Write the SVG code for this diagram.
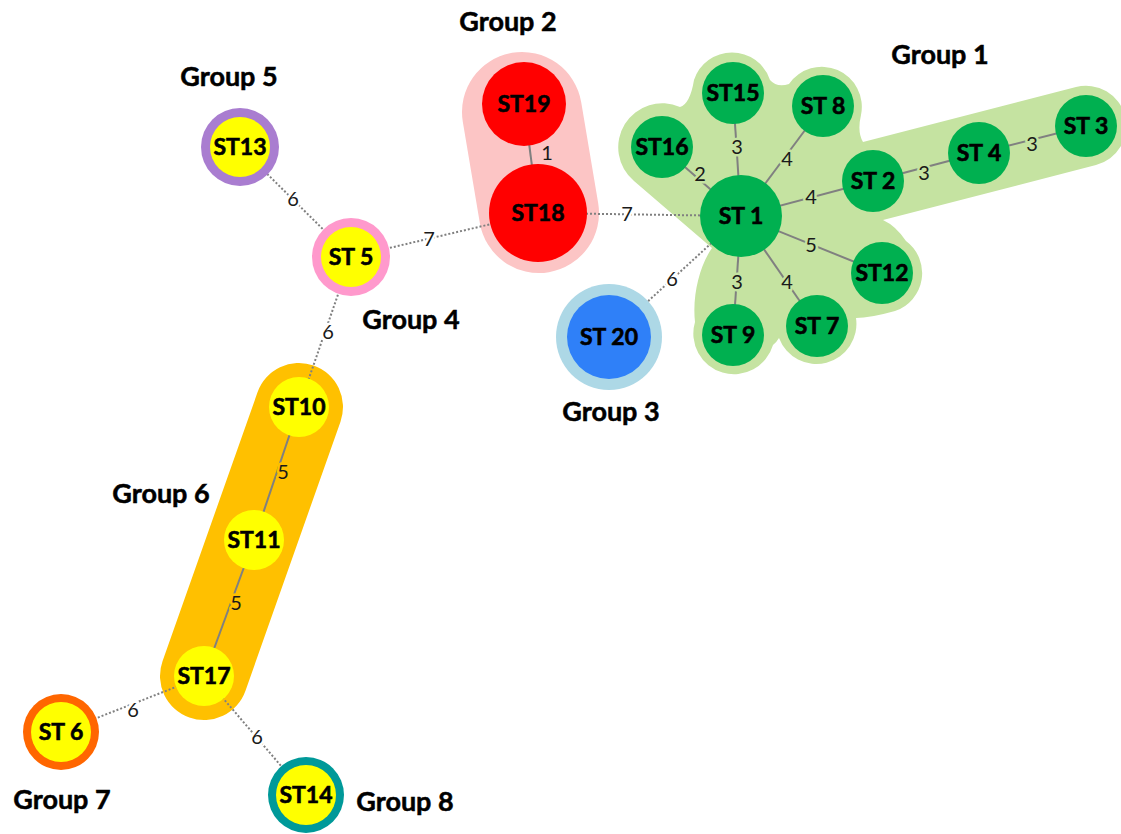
<svg xmlns="http://www.w3.org/2000/svg" width="1121" height="834" viewBox="0 0 1121 834">
<style>
.glabel{font-family:Lato,"Open Sans","Liberation Sans",sans-serif;font-weight:bold;font-size:27px;fill:#000;stroke:#000;stroke-width:0.5px;text-anchor:middle}
.nlabel{font-family:Lato,"Open Sans","Liberation Sans",sans-serif;font-weight:bold;font-size:23px;fill:#000;stroke:#000;stroke-width:0.6px;text-anchor:middle}
.elabel{font-family:Lato,"Open Sans","Liberation Sans",sans-serif;font-size:20px;fill:#1a1a1a;text-anchor:middle;paint-order:stroke;stroke-width:5px;stroke-linejoin:round}
.solid{stroke:#808080;stroke-width:2;fill:none}
.dotted{stroke:#808080;stroke-width:2;stroke-dasharray:2 2;fill:none}
.g1{fill:#00b050}
.yel{fill:#ffff00}
</style>
<g id="hulls">
  <path id="hull1" fill="#c5e3a1" d="M 680,107 Q 690,104 694,80 A 40 40 0 0 1 770,80 Q 777,88 789,84 A 40 40 0 0 1 861,115 Q 857,132 863,142 L 1076,87 A 40 40 0 0 1 1096,165 L 883,220 Q 896,226 906,241 A 40 40 0 0 1 895,311 Q 870,318 856,318 A 40 40 0 0 1 779,338 Q 776,343 773,345 A 40 40 0 1 1 695,322 C 692,295 700,265 712,248 L 634,181 A 44 44 0 0 1 680,107 Z"/>
  <line id="hull2" x1="522" y1="112" x2="539" y2="213" stroke="#fcc5c5" stroke-width="120" stroke-linecap="round"/>
  <line id="hull6" x1="299" y1="407" x2="204" y2="676" stroke="#ffc000" stroke-width="88" stroke-linecap="round"/>
</g>
<g id="connectors">
  <line class="solid" x1="741" y1="216" x2="733" y2="93"/>
  <line class="solid" x1="741" y1="216" x2="823" y2="106"/>
  <line class="solid" x1="741" y1="216" x2="662" y2="147"/>
  <line class="solid" x1="741" y1="216" x2="873" y2="181"/>
  <line class="solid" x1="873" y1="181" x2="979" y2="153"/>
  <line class="solid" x1="979" y1="153" x2="1086" y2="126"/>
  <line class="solid" x1="741" y1="216" x2="882" y2="273"/>
  <line class="solid" x1="741" y1="216" x2="817" y2="326"/>
  <line class="solid" x1="741" y1="216" x2="733" y2="335"/>
  <line class="solid" x1="524" y1="104" x2="538" y2="213"/>
  <line class="solid" x1="299" y1="407" x2="254" y2="540"/>
  <line class="solid" x1="254" y1="540" x2="204" y2="676"/>
  <line class="dotted" x1="538" y1="213" x2="741" y2="216"/>
  <line class="dotted" x1="741" y1="216" x2="609" y2="337"/>
  <line class="dotted" x1="351" y1="257" x2="538" y2="213"/>
  <line class="dotted" x1="351" y1="257" x2="240" y2="147"/>
  <line class="dotted" x1="351" y1="257" x2="299" y2="407"/>
  <line class="dotted" x1="204" y1="676" x2="61" y2="732"/>
  <line class="dotted" x1="204" y1="676" x2="306" y2="795"/>
  <g id="edge-labels">
    <text class="elabel" x="737" y="154" stroke="#c5e3a1">3</text>
    <text class="elabel" x="787" y="166" stroke="#c5e3a1">4</text>
    <text class="elabel" x="700" y="181" stroke="#c5e3a1">2</text>
    <text class="elabel" x="811" y="204" stroke="#c5e3a1">4</text>
    <text class="elabel" x="924" y="180" stroke="#c5e3a1">3</text>
    <text class="elabel" x="1032" y="151" stroke="#c5e3a1">3</text>
    <text class="elabel" x="811" y="252" stroke="#c5e3a1">5</text>
    <text class="elabel" x="737" y="289" stroke="#c5e3a1">3</text>
    <text class="elabel" x="787" y="289" stroke="#c5e3a1">4</text>
    <text class="elabel" x="627" y="221" stroke="#ffffff">7</text>
    <text class="elabel" x="672" y="286" stroke="#ffffff">6</text>
    <text class="elabel" x="547" y="160" stroke="#fcc5c5">1</text>
    <text class="elabel" x="429" y="246" stroke="#ffffff">7</text>
    <text class="elabel" x="293" y="206" stroke="#ffffff">6</text>
    <text class="elabel" x="328" y="339" stroke="#ffffff">6</text>
    <text class="elabel" x="283" y="479" stroke="#ffc000">5</text>
    <text class="elabel" x="236" y="610" stroke="#ffc000">5</text>
    <text class="elabel" x="133" y="717" stroke="#ffffff">6</text>
    <text class="elabel" x="257" y="744" stroke="#ffffff">6</text>
  </g>
</g>
<g id="ST1"><circle class="g1" cx="741" cy="216" r="41"/><text class="nlabel" x="741" y="224">ST 1</text></g>
<g id="ST15"><circle class="g1" cx="733" cy="93" r="31"/><text class="nlabel" x="733" y="101">ST15</text></g>
<g id="ST8"><circle class="g1" cx="823" cy="106" r="31"/><text class="nlabel" x="823" y="114">ST 8</text></g>
<g id="ST16"><circle class="g1" cx="662" cy="147" r="31"/><text class="nlabel" x="662" y="155">ST16</text></g>
<g id="ST2"><circle class="g1" cx="873" cy="181" r="31"/><text class="nlabel" x="873" y="189">ST 2</text></g>
<g id="ST4"><circle class="g1" cx="979" cy="153" r="31"/><text class="nlabel" x="979" y="161">ST 4</text></g>
<g id="ST3"><circle class="g1" cx="1086" cy="126" r="31"/><text class="nlabel" x="1086" y="134">ST 3</text></g>
<g id="ST12"><circle class="g1" cx="882" cy="273" r="31"/><text class="nlabel" x="882" y="281">ST12</text></g>
<g id="ST7"><circle class="g1" cx="817" cy="326" r="31"/><text class="nlabel" x="817" y="334">ST 7</text></g>
<g id="ST9"><circle class="g1" cx="733" cy="335" r="31"/><text class="nlabel" x="733" y="343">ST 9</text></g>
<g id="ST19"><circle fill="#ff0000" cx="524" cy="104" r="42"/><text class="nlabel" x="524" y="112">ST19</text></g>
<g id="ST18"><circle fill="#ff0000" cx="538" cy="213" r="49"/><text class="nlabel" x="538" y="221">ST18</text></g>
<g id="ST20"><circle fill="#add8e6" cx="609" cy="337" r="53"/><circle fill="#2f80f8" cx="609" cy="337" r="42"/><text class="nlabel" x="609" y="345">ST 20</text></g>
<g id="ST13"><circle fill="#a97dd0" cx="240" cy="147" r="39"/><circle class="yel" cx="240" cy="147" r="30"/><text class="nlabel" x="240" y="155">ST13</text></g>
<g id="ST5"><circle fill="#ff99cc" cx="351" cy="257" r="39"/><circle class="yel" cx="351" cy="257" r="30"/><text class="nlabel" x="351" y="265">ST 5</text></g>
<g id="ST10"><circle class="yel" cx="299" cy="407" r="30"/><text class="nlabel" x="299" y="415">ST10</text></g>
<g id="ST11"><circle class="yel" cx="254" cy="540" r="30"/><text class="nlabel" x="254" y="548">ST11</text></g>
<g id="ST17"><circle class="yel" cx="204" cy="676" r="30"/><text class="nlabel" x="204" y="684">ST17</text></g>
<g id="ST6"><circle fill="#ff6600" cx="61" cy="732" r="38"/><circle class="yel" cx="61" cy="732" r="30"/><text class="nlabel" x="61" y="740">ST 6</text></g>
<g id="ST14"><circle fill="#009999" cx="306" cy="795" r="38"/><circle class="yel" cx="306" cy="795" r="30"/><text class="nlabel" x="306" y="803">ST14</text></g>
<g id="group-labels">
  <text class="glabel" x="940" y="64">Group 1</text>
  <text class="glabel" x="508" y="31">Group 2</text>
  <text class="glabel" x="611" y="421">Group 3</text>
  <text class="glabel" x="411" y="329">Group 4</text>
  <text class="glabel" x="229" y="86">Group 5</text>
  <text class="glabel" x="161" y="503">Group 6</text>
  <text class="glabel" x="62" y="809">Group 7</text>
  <text class="glabel" x="405" y="811">Group 8</text>
</g>
</svg>
